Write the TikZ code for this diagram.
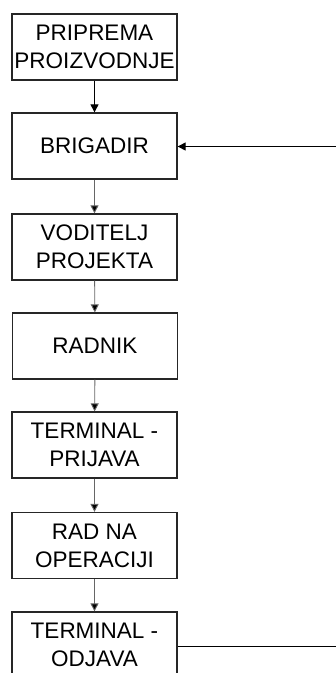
\documentclass[tikz,border=0pt]{standalone}
\usepackage{fontspec}
\setmainfont{Liberation Sans}
\usetikzlibrary{arrows.meta}
\begin{document}
\begin{tikzpicture}[x=1pt,y=-1pt,
  box/.style={draw=black!85,line width=1.3pt,fill=white,minimum width=165pt,minimum height=66pt,
    align=center,inner sep=0pt,font=\fontsize{22.5}{28}\selectfont},
  conn/.style={draw=black!60,line width=0.9pt,-{Triangle[width=8pt,length=8pt,fill=black]}},
  fb/.style={draw=black,line width=1pt,-{Triangle[width=8pt,length=8pt,fill=black]}}]
\useasboundingbox (0,0) rectangle (336,673);
\clip (0,0) rectangle (336,673);
\node[box] (b1) at (94.5,47) {PRIPREMA\\PROIZVODNJE};
\node[box] (b2) at (94.5,146) {BRIGADIR};
\node[box] (b3) at (94.5,247) {VODITELJ\\PROJEKTA};
\node[box] (b4) at (95,346) {RADNIK};
\node[box] (b5) at (94.5,445) {TERMINAL -\\PRIJAVA};
\node[box] (b6) at (94.5,545.5) {RAD NA\\OPERACIJI};
\node[box] (b7) at (94.5,645) {TERMINAL -\\ODJAVA};
\coordinate (r2) at (340,146.5);
\coordinate (r7) at (340,646);
\draw[conn,draw=black] (b1) -- (b2);
\draw[conn] (b2) -- (b3);
\draw[conn] (b3) -- (b4);
\draw[conn] (b4) -- (b5);
\draw[conn] (b5) -- (b6);
\draw[conn] (b6) -- (b7);
\draw[fb] (r2) -- (b2.east |- r2);
\draw[draw=black,line width=1pt] (b7.east |- r7) -- (r7);
\end{tikzpicture}
\end{document}
